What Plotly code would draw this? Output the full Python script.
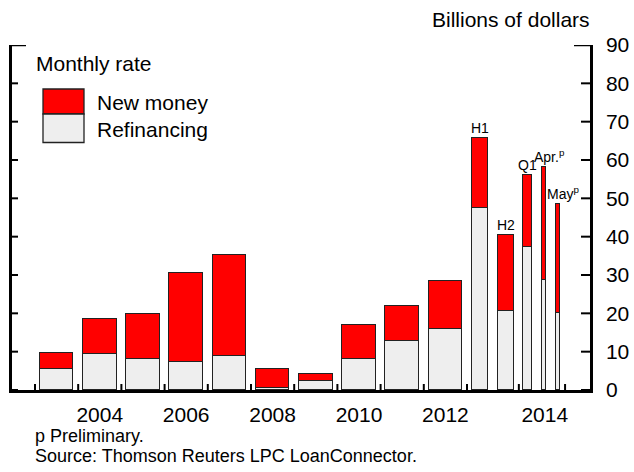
import plotly.graph_objects as go

# ---- data (billions of dollars, monthly rate) ----
periods = ["2003", "2004", "2005", "2006", "2007", "2008", "2009", "2010",
           "2011", "2012", "2013 H1", "2013 H2", "2014 Q1", "2014 Apr.", "2014 May"]
refinancing = [5.5, 9.5, 8.2, 7.3, 8.9, 0.5, 2.3, 8.2, 12.7, 15.9,
               47.5, 20.6, 37.3, 28.6, 20.2]
new_money = [4.2, 8.9, 11.7, 23.1, 26.4, 5.0, 2.0, 8.8, 9.3, 12.5,
             18.3, 19.9, 18.7, 29.7, 28.2]
bar_labels = ["", "", "", "", "", "", "", "", "", "",
              "H1", "H2", "Q1", "Apr.<sup>p</sup>", "May<sup>p</sup>"]
year_labels = ["2004", "2006", "2008", "2010", "2012", "2014"]
y_ticks = list(range(0, 91, 10))

# ---- horizontal layout: one slot per year; 2013 and 2014 get wider slots ----
slot_widths = [1.0] * 10 + [1.2, 1.07]
slot_starts = [sum(slot_widths[:i]) for i in range(len(slot_widths))]
slot_edges = slot_starts + [slot_starts[-1] + slot_widths[-1]]

# (slot index, fractional centre in slot, bar width in slot units)
placement = [(i, 0.5, 0.78) for i in range(10)] + [
    (10, 0.242, 0.37), (10, 0.75, 0.38),
    (11, 0.196, 0.21), (11, 0.551, 0.10), (11, 0.85, 0.093),
]
xpos = [slot_starts[s] + f * slot_widths[s] for s, f, _ in placement]
widths = [w for _, _, w in placement]
# labels with a trailing superscript sit slightly right of the bar centre
label_shift = [0] * 13 + [5, 5]

label_pos = [1.5, 3.5, 5.5, 7.5, 9.5, slot_starts[11] + 0.6]

X_RANGE = [-0.532, 12.847]
Y_RANGE = [0, 90]

W, H = 634, 472
L, R, T, B = 12, 44, 45, 82
PW, PH = W - L - R, H - T - B


def px(x):
    return (x - L) / PW


def py(y):
    return (H - B - y) / PH


FONT = "Liberation Sans, Arial, sans-serif"
RED = "#ff0000"
GREY = "#eeeeee"
EDGE = "#222222"
BIG = 21

fig = go.Figure()
fig.add_bar(x=xpos, y=refinancing, width=widths, name="Refinancing",
            marker=dict(color=GREY, line=dict(color=EDGE, width=1.3)),
            hovertext=periods)
fig.add_bar(x=xpos, y=new_money, width=widths, name="New money",
            marker=dict(color=RED, line=dict(color=EDGE, width=1.3)),
            hovertext=periods)

# period labels above the sub-annual bars
for x, r, n, lab, sh in zip(xpos, refinancing, new_money, bar_labels, label_shift):
    if lab:
        fig.add_annotation(x=x, y=r + n, text=lab, showarrow=False,
                           yanchor="bottom", xanchor="center", xshift=sh,
                           font=dict(size=14, color="black", family=FONT))

# tick marks pointing into the plot
TICK = dict(color="black", width=2)
for e in slot_edges:
    fig.add_shape(type="line", xref="x", yref="y", x0=e, x1=e,
                  ysizemode="pixel", yanchor=0, y0=0, y1=6, line=TICK)
for v in y_ticks:
    fig.add_shape(type="line", xref="paper", yref="y", y0=v, y1=v,
                  xsizemode="pixel", xanchor=1, x0=-9, x1=0, line=TICK)
    fig.add_shape(type="line", xref="paper", yref="y", y0=v, y1=v,
                  xsizemode="pixel", xanchor=0, x0=0, x1=6, line=TICK)

# top bracket ends of the two vertical axes
fig.add_shape(type="line", xref="paper", yref="y", y0=90, y1=90,
              xsizemode="pixel", xanchor=0, x0=0, x1=14,
              line=dict(color="black", width=2.5))
fig.add_shape(type="line", xref="paper", yref="y", y0=90, y1=90,
              xsizemode="pixel", xanchor=1, x0=-16, x1=0,
              line=dict(color="black", width=2.5))

# legend drawn by hand
def text(x, y, s, size, anchor="left"):
    fig.add_annotation(x=px(x), y=py(y), xref="paper", yref="paper",
                       text=s, showarrow=False, xanchor=anchor,
                       yanchor="middle",
                       font=dict(size=size, color="black", family=FONT))


text(34, 64, "Monthly rate", BIG)
fig.add_shape(type="rect", xref="paper", yref="paper",
              x0=px(43), x1=px(84), y0=py(89), y1=py(114),
              fillcolor=RED, line=dict(color=EDGE, width=1.3))
fig.add_shape(type="rect", xref="paper", yref="paper",
              x0=px(43), x1=px(84), y0=py(114), y1=py(142.5),
              fillcolor=GREY, line=dict(color=EDGE, width=1.3))
text(95, 102, "New money", BIG)
text(95, 129, "Refinancing", BIG)

# unit label and notes
text(592, 20, "Billions of dollars", BIG, anchor="right")
text(33, 436, "p Preliminary.", 18)
text(33, 456, "Source: Thomson Reuters LPC LoanConnector.", 18)

fig.update_layout(
    width=W, height=H,
    margin=dict(l=L, r=R, t=T, b=B, pad=0, autoexpand=False),
    paper_bgcolor="white", plot_bgcolor="rgba(0,0,0,0)",
    barmode="stack", bargap=0, showlegend=False,
    font=dict(family=FONT, color="black"),
    xaxis=dict(range=X_RANGE, tickvals=label_pos, ticktext=year_labels,
               ticks="", showline=True, linecolor="black", linewidth=2.5,
               showgrid=False, zeroline=False, ticklabelstandoff=4,
               automargin=False,
               tickfont=dict(size=BIG, family=FONT, color="black")),
    yaxis=dict(range=Y_RANGE, side="right", tickvals=y_ticks,
               ticks="", showline=True, linecolor="black", linewidth=2.5,
               showgrid=False, zeroline=False, ticklabelstandoff=9,
               automargin=False,
               tickfont=dict(size=BIG, family=FONT, color="black")),
    yaxis2=dict(range=Y_RANGE, overlaying="y", side="left", anchor="x",
                ticks="", showticklabels=False, automargin=False,
                showline=True, linecolor="black", linewidth=2.5,
                showgrid=False, zeroline=False),
)
fig.add_scatter(x=[0], y=[0], yaxis="y2", mode="markers",
                marker=dict(opacity=0), showlegend=False, hoverinfo="skip")

fig.write_html("out.html")
